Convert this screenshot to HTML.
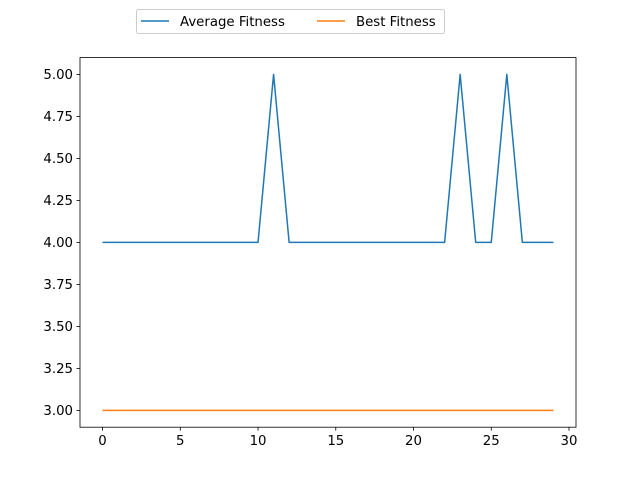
<!DOCTYPE html>
<html><head><meta charset="utf-8"><style>
body{margin:0;background:#fff;}
svg text{font-family:"DejaVu Sans","Liberation Sans",sans-serif;font-size:13.3px;fill:#000;}
</style></head><body>
<svg id="chart" width="640" height="480" xmlns="http://www.w3.org/2000/svg"></svg>
<script>
const generations = Array.from({length:30},(_,i)=>i);
const averageFitness = [4,4,4,4,4,4,4,4,4,4,4,5,4,4,4,4,4,4,4,4,4,4,4,5,4,4,5,4,4,4];
const bestFitness = [3,3,3,3,3,3,3,3,3,3,3,3,3,3,3,3,3,3,3,3,3,3,3,3,3,3,3,3,3,3];
const xTicks = [0,5,10,15,20,25,30];
const yTicks = [3.00,3.25,3.50,3.75,4.00,4.25,4.50,4.75,5.00];

const L=80,R=576,T=57.6,B=427.2;
const xmin=-1.45,xmax=30.45,ymin=2.9,ymax=5.1;
const sx=v=>L+(v-xmin)/(xmax-xmin)*(R-L);
const sy=v=>B-(v-ymin)/(ymax-ymin)*(B-T);
const svg=document.getElementById('chart');
const NS='http://www.w3.org/2000/svg';
function mk(tag,attrs,parent){const e=document.createElementNS(NS,tag);for(const k in attrs)e.setAttribute(k,attrs[k]);(parent||svg).appendChild(e);return e;}

const frame=mk('rect',{x:L,y:T,width:R-L,height:B-T,fill:'none',stroke:'#000','stroke-width':0.8});



xTicks.forEach(t=>{
  const x=sx(t);
  const l=mk('line',{x1:x,x2:x,y1:B,y2:B+3.5,stroke:'#000','stroke-width':0.8});
  
  
  const tx=mk('text',{x:x,y:B+18,'text-anchor':'middle'});
  tx.textContent=t;
  
  
});
yTicks.forEach(t=>{
  const y=sy(t);
  const l=mk('line',{x1:L-3.5,x2:L,y1:y,y2:y,stroke:'#000','stroke-width':0.8});
  
  
  const tx=mk('text',{x:L-7,y:y+4.8,'text-anchor':'end'});
  tx.textContent=t.toFixed(2);
  
  
});

function series(vals,color,name){
  const p=mk('polyline',{points:vals.map((v,i)=>sx(generations[i])+','+sy(v)).join(' '),fill:'none',stroke:color,'stroke-width':1.5,'stroke-linejoin':'round'});
  
  
}
series(averageFitness,'#1f77b4','average-fitness-line');
series(bestFitness,'#ff7f0e','best-fitness-line');

const lg=mk('g',{});


mk('rect',{x:136.5,y:9.5,width:308,height:24,rx:2,fill:'#fff',stroke:'#ccc','stroke-width':1},lg);
mk('line',{x1:141,x2:169,y1:21,y2:21,stroke:'#1f77b4','stroke-width':1.5},lg);
const t1=mk('text',{x:180,y:26},lg);t1.textContent='Average Fitness';


mk('line',{x1:317,x2:345,y1:21,y2:21,stroke:'#ff7f0e','stroke-width':1.5},lg);
const t2=mk('text',{x:356,y:26},lg);t2.textContent='Best Fitness';


</script>
</body></html>
